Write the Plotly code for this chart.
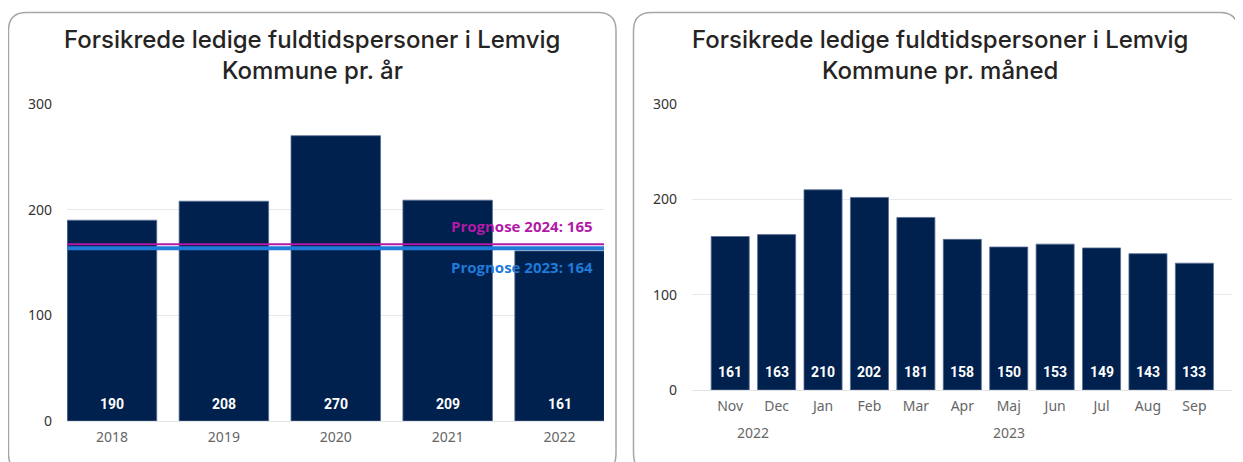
import plotly.graph_objects as go

# ---- data ----
years = ["2018", "2019", "2020", "2021", "2022"]
year_values = [190, 208, 270, 209, 161]

prognose_labels = ["Prognose 2024", "Prognose 2023"]
prognose_values = [165, 164]

month_years = ["2022", "2022", "2023", "2023", "2023", "2023", "2023", "2023", "2023", "2023", "2023"]
months = ["Nov", "Dec", "Jan", "Feb", "Mar", "Apr", "Maj", "Jun", "Jul", "Aug", "Sep"]
month_values = [161, 163, 210, 202, 181, 158, 150, 153, 149, 143, 133]

title_left = ["Forsikrede ledige fuldtidspersoner i Lemvig", "Kommune pr. år"]
title_right = ["Forsikrede ledige fuldtidspersoner i Lemvig", "Kommune pr. måned"]
y_ticks = [0, 100, 200, 300]

# ---- layout helpers (page has an 8px body margin) ----
W, H = 1243, 462
OFF = 8
def px_x(x):
    return (x - OFF) / W
def px_y(y):
    return 1 - (y - OFF) / H

BAR = "#00204E"
GRID = "#E9E9E9"
TITLE_FONT = "Inter"
LABEL_FONT = "Roboto"
MAG = "#B21AA6"
BLUE = "#1F7AD8"

fig = go.Figure()

fig.add_trace(go.Bar(
    x=list(range(len(years))), y=year_values, xaxis="x", yaxis="y",
    marker=dict(color=BAR, line=dict(color="#5A6E96", width=0.8)),
    width=0.8, hoverinfo="skip",
))

fig.add_trace(go.Bar(
    x=list(range(len(months))), y=month_values, xaxis="x2", yaxis="y2",
    marker=dict(color=BAR, line=dict(color="#5A6E96", width=0.8)),
    width=0.82, hoverinfo="skip",
))

axis_tick_font = dict(family="Noto Sans", size=14, color="#666666")
ytick_font = dict(family="Noto Sans", size=14, color="#333333")

fig.update_layout(
    template="none",
    width=W, height=H,
    margin=dict(l=0, r=0, t=0, b=0),
    paper_bgcolor="white", plot_bgcolor="white",
    showlegend=False,
    xaxis=dict(domain=[px_x(67), px_x(604)], range=[-0.402, 4.397],
               tickvals=list(range(len(years))), ticktext=years,
               tickfont=axis_tick_font, showgrid=False, zeroline=False, showline=False,
               ticks="", ticklabelstandoff=6, fixedrange=True, automargin=False),
    yaxis=dict(domain=[px_y(421), px_y(104)], range=[0, 300], tickvals=y_ticks,
               tickfont=ytick_font, gridcolor=GRID, gridwidth=1, zeroline=True,
               zerolinecolor="#E4E4E4", zerolinewidth=1, showline=False, ticks="",
               ticklabelstandoff=14, fixedrange=True, automargin=False),
    xaxis2=dict(domain=[px_x(692), px_x(1232)], range=[-0.823, 10.81],
                tickvals=list(range(len(months))), ticktext=months,
                tickfont=axis_tick_font, showgrid=False, zeroline=False, showline=False,
                ticks="", anchor="y2", fixedrange=True, automargin=False,
                ticklabelstandoff=6),
    yaxis2=dict(domain=[px_y(390), px_y(104)], range=[0, 300], tickvals=y_ticks,
                tickfont=ytick_font, gridcolor=GRID, gridwidth=1, zeroline=True,
                zerolinecolor="#E4E4E4", zerolinewidth=1, showline=False, ticks="",
                ticklabelstandoff=14, anchor="x2", fixedrange=True, automargin=False),
    bargap=0.2,
)

# ---- value labels inside the bar bases ----
lbl_font = dict(color="white", size=14, family=LABEL_FONT, weight="bold")
for i, v in enumerate(year_values):
    fig.add_annotation(x=i, y=0, xref="x", yref="y", text=str(v), showarrow=False,
                       yanchor="middle", yshift=17, font=lbl_font)
for i, v in enumerate(month_values):
    fig.add_annotation(x=i, y=0, xref="x2", yref="y2", text=str(v), showarrow=False,
                       yanchor="middle", yshift=18, font=lbl_font)

# ---- year group labels under the month axis ----
for yr in sorted(set(month_years)):
    idx = [i for i, m in enumerate(month_years) if m == yr]
    center = sum(idx) / len(idx)
    fig.add_annotation(x=center, y=0, xref="x2", yref="y2", text=yr, showarrow=False,
                       yanchor="middle", yshift=-42, font=axis_tick_font)

# ---- panel boxes (rounded rectangles, pixel-based) ----
def rounded_box(x0, y0, x1, y1, r):
    def P(x, y):
        return f"{px_x(x):.5f},{px_y(y):.5f}"
    path = (f"M {P(x0 + r, y0)} L {P(x1 - r, y0)} Q {P(x1, y0)} {P(x1, y0 + r)} "
            f"L {P(x1, y1 - r)} Q {P(x1, y1)} {P(x1 - r, y1)} "
            f"L {P(x0 + r, y1)} Q {P(x0, y1)} {P(x0, y1 - r)} "
            f"L {P(x0, y0 + r)} Q {P(x0, y0)} {P(x0 + r, y0)} Z")
    return dict(type="path", path=path, xref="paper", yref="paper",
                line=dict(color="#A6A6A6", width=1.5), fillcolor="rgba(0,0,0,0)",
                layer="below")

fig.add_shape(**rounded_box(8.5, 12.5, 616, 472, 18))
fig.add_shape(**rounded_box(633.5, 12.5, 1238, 472, 18))

# ---- titles ----
for cx, lines in [(312, title_left), (940, title_right)]:
    for ly, txt in zip([40, 70], lines):
        fig.add_annotation(x=px_x(cx), y=px_y(ly), xref="paper", yref="paper",
                           text=txt, showarrow=False, xanchor="center", yanchor="middle",
                           font=dict(family=TITLE_FONT, size=24, color="#252423", weight=500))

# ---- prognosis lines ----
prog_colors = [MAG, BLUE]
prog_widths = [2, 4]
prog_pix = [2.5, -0.5]
prog_text_shift = [21, -19]

for i in [1, 0]:  # blue first, magenta on top
    fig.add_shape(type="line", xref="x domain", yref="y", x0=0, x1=1,
                  ysizemode="pixel", yanchor=prognose_values[i],
                  y0=prog_pix[i], y1=prog_pix[i],
                  line=dict(color=prog_colors[i], width=prog_widths[i]), layer="above")
for i in range(2):
    fig.add_annotation(x=1, xref="x domain", y=prognose_values[i], yref="y",
                       text=f"{prognose_labels[i]}: {prognose_values[i]}",
                       showarrow=False, xanchor="right", yanchor="middle",
                       xshift=-9, yshift=prog_text_shift[i],
                       font=dict(family="Open Sans", size=15, color=prog_colors[i], weight="bold"))

fig.write_html("out.html")
